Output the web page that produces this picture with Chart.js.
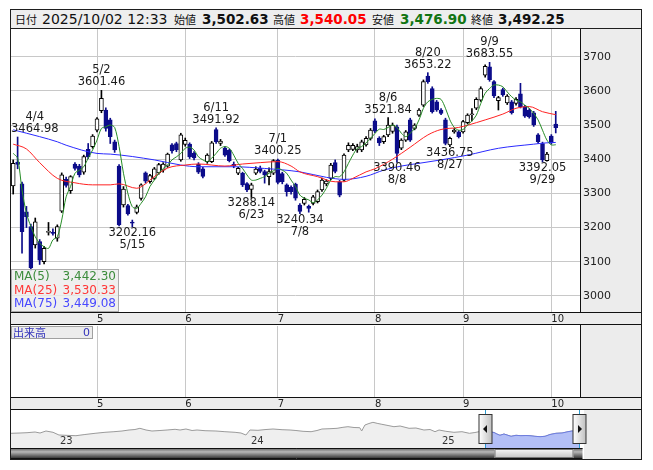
<!DOCTYPE html>
<html>
<head>
<meta charset="utf-8">
<title>daily chart</title>
<script src="https://cdn.jsdelivr.net/npm/chart.js@4.4.1/dist/chart.umd.min.js"></script>
<style>
  html, body { margin: 0; padding: 0; background: #fff; }
  body { width: 653px; height: 470px; position: relative; overflow: hidden; font-family: 'DejaVu Sans', sans-serif; }
  #frame { position: absolute; left: 10px; top: 9px; width: 632px; height: 451px; border: 1px solid #1e1e1e; box-sizing: border-box; }
  #head { position: absolute; left: 10px; top: 9px; width: 632px; height: 20px; border: 1px solid #1e1e1e; box-sizing: border-box; background: #eeeeee; z-index: 3; }
  #head span { position: absolute; top: 0; line-height: 18px; white-space: nowrap; color: #111; }
  #head .jp { font-family: 'Noto Sans CJK JP', sans-serif; font-size: 11px; }
  #head .dt { font-size: 14px; }
  #head .v { font-size: 13.5px; font-weight: bold; }
  canvas { position: absolute; }
  #maBox { position: absolute; left: 11px; top: 269px; width: 108px; height: 43px; box-sizing: border-box;
           border: 1px solid #ababab; background: rgba(236,236,236,0.82); font-size: 12px; z-index: 5; }
  #maBox .row { position: relative; height: 13.5px; line-height: 13.5px; }
  #maBox .row span { position: absolute; left: 2px; }
  #maBox .row b { position: absolute; right: 2px; font-weight: normal; }
  #volBox { position: absolute; left: 11px; top: 326px; width: 82px; height: 13px; box-sizing: border-box;
            border: 1px solid #a0a0a0; background: #ececec; color: #3333bb; font-size: 11px; line-height: 11px; z-index: 5; }
  #volBox span { position: absolute; left: 1px; font-family: 'Noto Sans CJK JP', sans-serif; }
  #volBox b { position: absolute; right: 2px; font-weight: normal; }
</style>
</head>
<body>
<div id="frame"></div>
<div id="head">
  <span class="jp" style="left:4px">日付</span>
  <span class="dt" style="left:31px" id="hDate"></span>
  <span class="jp" style="left:163px">始値</span>
  <span class="v" style="left:191px" id="hOpen"></span>
  <span class="jp" style="left:262px">高値</span>
  <span class="v" style="left:289px;color:#ff0000" id="hHigh"></span>
  <span class="jp" style="left:361px">安値</span>
  <span class="v" style="left:389px;color:#127512" id="hLow"></span>
  <span class="jp" style="left:460px">終値</span>
  <span class="v" style="left:487px" id="hClose"></span>
</div>
<canvas id="mainChart" width="630" height="296" style="left:11px;top:29px"></canvas>
<canvas id="volChart" width="630" height="85" style="left:11px;top:325px"></canvas>
<canvas id="navChart" width="630" height="49" style="left:11px;top:410px"></canvas>
<div id="maBox">
  <div class="row" style="color:#3c8c3c"><span>MA(5)</span><b id="lg5"></b></div>
  <div class="row" style="color:#ff3838"><span>MA(25)</span><b id="lg25"></b></div>
  <div class="row" style="color:#4848ff"><span>MA(75)</span><b id="lg75"></b></div>
</div>
<div id="volBox"><span>出来高</span><b>0</b></div>

<script>
// trading days shown (Apr 3 - Oct 2, 2025)
const dates = [
  '4/3','4/4','4/7','4/8','4/9','4/10','4/11','4/14','4/15','4/16','4/17','4/18','4/21','4/22','4/23','4/24','4/25','4/28','4/30',
  '5/1','5/2','5/7','5/8','5/9','5/12','5/13','5/14','5/15','5/16','5/19','5/20','5/21','5/22','5/23','5/26','5/27','5/28','5/29','5/30',
  '6/2','6/3','6/4','6/5','6/6','6/9','6/10','6/11','6/12','6/13','6/16','6/17','6/18','6/19','6/20','6/23','6/24','6/25','6/26','6/27','6/30',
  '7/1','7/2','7/3','7/4','7/7','7/8','7/9','7/10','7/11','7/14','7/15','7/16','7/17','7/18','7/22','7/23','7/24','7/25','7/28','7/29','7/30','7/31',
  '8/1','8/4','8/5','8/6','8/7','8/8','8/12','8/13','8/14','8/15','8/18','8/19','8/20','8/21','8/22','8/25','8/26','8/27','8/28','8/29',
  '9/1','9/2','9/3','9/4','9/5','9/8','9/9','9/10','9/11','9/12','9/16','9/17','9/18','9/19','9/22','9/24','9/25','9/26','9/29','9/30',
  '10/1','10/2'
];

const opens = [
  3322,3392,3328,3246,3203,3149,3159,3100,3186,3186,
  3169,3248,3341,3308,3386,3380,3362,3429,3437,3485,
  3542,3544,3515,3451,3380,3266,3264,3216,3244,3285,
  3360,3334,3344,3360,3368,3380,3442,3446,3398,3443,
  3444,3418,3386,3372,3393,3393,3487,3446,3432,3427,
  3385,3359,3359,3329,3312,3359,3373,3364,3349,3359,
  3397,3358,3325,3318,3327,3266,3271,3262,3271,3276,
  3310,3328,3344,3390,3334,3339,3427,3429,3427,3427,
  3442,3461,3512,3462,3451,3471,3481,3495,3432,3456,
  3515,3490,3529,3558,3643,3607,3568,3544,3515,3442,
  3480,3480,3480,3507,3530,3549,3573,3646,3670,3627,
  3571,3604,3565,3568,3563,3591,3554,3544,3536,3471,
  3446,3396,3468,3502.63
];
const highs = [
  3398,3464.98,3333,3262,3210,3228,3165,3145,3215,3196,
  3208,3360,3348,3352,3390,3385,3412,3446,3472,3522,
  3601.46,3550,3520,3456,3384,3320,3268,3222,3266,3328,
  3363,3356,3376,3388,3390,3418,3446,3450,3476,3462,
  3448,3422,3390,3376,3416,3452,3491.92,3458,3436,3430,
  3392,3376,3362,3332,3330,3378,3380,3368,3375,3399,
  3400.25,3362,3328,3322,3330,3270,3288,3266,3294,3310,
  3345,3340,3388,3398,3338,3416,3448,3446,3444,3456,
  3466,3490,3518,3466,3470,3521.84,3506,3500,3460,3484,
  3520,3504,3548,3632,3653.22,3612,3572,3548,3520,3465,
  3490,3484,3514,3533,3548,3580,3612,3676,3683.55,3630,
  3584,3608,3589,3572,3580,3622,3558,3548,3540,3475,
  3450,3420,3472,3540.05
];
const lows = [
  3298,3372,3125,3200,3075,3140,3092,3094,3178,3178,
  3160,3244,3318,3300,3368,3348,3356,3402,3432,3480,
  3536,3482,3446,3420,3205,3260,3236,3202.16,3240,3280,
  3330,3330,3340,3356,3362,3376,3418,3422,3394,3438,
  3402,3398,3358,3345,3388,3390,3446,3440,3408,3392,
  3375,3355,3320,3305,3288.14,3355,3360,3330,3325,3355,
  3328,3328,3292,3298,3280,3240.34,3266,3245,3266,3272,
  3306,3322,3340,3360,3290,3336,3422,3425,3420,3422,
  3438,3456,3478,3440,3446,3466,3476,3390.46,3428,3452,
  3452,3486,3525,3554,3622,3535,3540,3530,3442,3436.75,
  3476,3462,3476,3503,3512,3545,3569,3640,3628,3580,
  3544,3584,3560,3532,3558,3550,3522,3520,3496,3446,
  3392.05,3394,3444,3476.90
];
const closes = [
  3388,3385,3188,3232,3082,3217,3105,3139,3189,3183,
  3203,3354,3323,3349,3373,3354,3408,3407,3468,3518,
  3578,3490,3466,3427,3208,3313,3240,3213,3261,3325,
  3336,3352,3372,3384,3386,3415,3424,3428,3471,3455,
  3407,3404,3362,3350,3412,3448,3451,3453,3412,3396,
  3381,3373,3325,3310,3325,3371,3364,3354,3364,3396,
  3332,3334,3305,3305,3286,3247,3283,3256,3290,3305,
  3339,3336,3383,3364,3295,3412,3441,3441,3437,3451,
  3461,3485,3482,3448,3466,3500,3500,3417,3456,3480,
  3456,3500,3544,3627,3627,3539,3544,3534,3446,3461,
  3485,3466,3510,3529,3533,3575,3607,3672,3633,3585,
  3580,3588,3585,3536,3575,3554,3526,3524,3500,3451,
  3398,3415,3448,3492.25
];

// moving averages
const ma5 = [
  3417,3403,3310,3242,3203,3173,3154,3144,3139,3164,
  3173,3222,3290,3320,3359,3368,3378,3403,3427,3456,
  3490,3495,3500,3493,3437,3359,3300,3261,3256,3271,
  3290,3320,3339,3359,3373,3383,3398,3407,3417,3432,
  3435,3427,3407,3398,3393,3403,3417,3432,3437,3432,
  3412,3388,3373,3354,3339,3339,3344,3349,3359,3366,
  3373,3368,3359,3339,3320,3295,3286,3281,3273,3281,
  3295,3315,3339,3349,3349,3363,3388,3412,3432,3437,
  3448,3461,3475,3488,3487,3493,3500,3493,3476,3466,
  3476,3490,3515,3549,3568,3575,3578,3575,3549,3515,
  3493,3485,3487,3500,3512,3529,3563,3593,3607,3617,
  3617,3612,3597,3583,3573,3568,3558,3549,3534,3515,
  3485,3456,3442,3442.30
];
const ma25Pts = [[0,3444],[3,3430],[6,3390],[10,3344],[14,3331],[18,3325],[22,3325],[24,3328],[28,3315],
  [30,3328],[31,3339],[35,3374],[39,3383],[42,3386],[48,3380],[52,3386],[56,3390],[60,3393],[63,3380],
  [65,3363],[69,3349],[73,3334],[75,3334],[77,3344],[80,3363],[82,3372],[86,3400],[90,3435],[94,3471],
  [97,3487],[101,3493],[105,3507],[107,3515],[111,3532],[114,3549],[117,3554],[120,3539],[123,3530.33]];
const ma75Pts = [[0,3486],[6,3466],[10,3451],[12,3441],[19,3417],[22,3415],[32,3398],[38,3383],[42,3378],
  [50,3378],[57,3373],[65,3363],[71,3347],[75,3341],[80,3350],[84,3368],[88,3380],[92,3388],[97,3398],
  [103,3412],[110,3432],[118,3444],[121,3448],[123,3449.08]];

const yTicks = [3000, 3100, 3200, 3300, 3400, 3500, 3600, 3700];
const peakIdx = [1, 20, 46, 60, 85, 94, 108];
const troughIdx = [27, 54, 65, 87, 99, 120];
const emptySlots = 5;

// long-range navigator (decimal year, value)
const navHistory = [
  [2022.754,3456],[2022.801,3480],[2022.838,3504],[2022.880,3560],[2022.906,3480],[2022.937,3640],[2022.974,3536],
  [2023.005,3320],[2023.042,3296],[2023.094,3264],[2023.141,3360],[2023.194,3456],[2023.246,3536],[2023.293,3584],
  [2023.335,3640],[2023.372,3720],[2023.403,3760],[2023.429,3856],[2023.461,3720],[2023.492,3640],[2023.534,3680],
  [2023.571,3720],[2023.613,3776],[2023.639,3720],[2023.670,3800],[2023.702,3680],[2023.728,3720],[2023.770,3664],
  [2023.827,3640],[2023.874,3584],[2023.927,3536],[2023.958,3480],[2023.984,3320],[2024.005,3720],[2024.047,3696],
  [2024.089,3760],[2024.126,3800],[2024.173,3744],[2024.215,3720],[2024.246,3680],[2024.283,3616],[2024.325,3584],
  [2024.356,3680],[2024.382,3800],[2024.424,3824],[2024.461,3856],[2024.492,3936],[2024.518,3984],[2024.550,3920],
  [2024.580,3904],[2024.590,3640],[2024.607,4120],[2024.628,4240],[2024.649,4336],[2024.675,4240],[2024.696,4176],
  [2024.728,4080],[2024.759,3984],[2024.791,4040],[2024.838,3856],[2024.874,3880],[2024.916,3720],[2024.948,3760],
  [2024.974,3584],[2024.995,3720],[2025.031,3616],[2025.073,3536],[2025.115,3584],[2025.154,3456],[2025.183,3520],
  [2025.204,3584],[2025.235,3560],[2025.257,3584],[2025.283,3520],[2025.298,3400],[2025.314,3296],[2025.335,3400],
  [2025.356,3296],[2025.372,3216],[2025.398,3296],[2025.424,3264],[2025.450,3280],[2025.471,3264],[2025.497,3216],
  [2025.524,3184],[2025.550,3216],[2025.576,3360],[2025.607,3456],[2025.639,3480],[2025.670,3584],[2025.691,3640],
  [2025.712,3616],[2025.733,3600]
];
const navWindow = [2025.235, 2025.733];
const navYearTicks = [2023, 2024, 2025];

const NAVY = '#0c0c8a';
Chart.defaults.font.family = "'DejaVu Sans', sans-serif";
Chart.defaults.color = '#222';

const slots = dates.concat(Array(emptySlots).fill(''));
const isUp = opens.map((o, i) => closes[i] >= o);
function sparse(pts) {
  const arr = dates.map(() => null);
  pts.forEach(([i, v]) => { arr[i] = v; });
  return arr;
}
function monthStart(i) {
  if (i <= 0 || i >= dates.length) return false;
  return dates[i].split('/')[0] !== dates[i - 1].split('/')[0];
}
const fmt = v => v.toLocaleString('en-US', { minimumFractionDigits: 2, maximumFractionDigits: 2 });

// header + legend text
const last = dates.length - 1;
document.getElementById('hDate').textContent = '2025/10/02 12:33';
document.getElementById('hOpen').textContent = fmt(opens[last]);
document.getElementById('hHigh').textContent = fmt(highs[last]);
document.getElementById('hLow').textContent = fmt(lows[last]);
document.getElementById('hClose').textContent = fmt(closes[last]);
document.getElementById('lg5').textContent = fmt(ma5[last]);
document.getElementById('lg25').textContent = fmt(ma25Pts[ma25Pts.length - 1][1]);
document.getElementById('lg75').textContent = fmt(ma75Pts[ma75Pts.length - 1][1]);

// gray side panel + date band behind each price/volume pane
const panelBg = {
  id: 'panelBg',
  beforeDraw(chart) {
    const { ctx, chartArea: a, width: w, height: h } = chart;
    ctx.save();
    ctx.fillStyle = '#ececec';
    ctx.fillRect(a.right, 0, w - a.right, a.bottom);
    ctx.fillRect(0, a.bottom, w, h - a.bottom);
    ctx.restore();
  },
  afterDraw(chart) {
    const { ctx, chartArea: a, width: w, height: h } = chart;
    ctx.save();
    ctx.strokeStyle = '#111';
    ctx.lineWidth = 1;
    ctx.beginPath();
    ctx.moveTo(0, Math.round(a.bottom) + 0.5); ctx.lineTo(w, Math.round(a.bottom) + 0.5);
    ctx.moveTo(0, h - 0.5); ctx.lineTo(w, h - 0.5);
    ctx.moveTo(Math.round(a.right) + 0.5, 0); ctx.lineTo(Math.round(a.right) + 0.5, a.bottom);
    ctx.stroke();
    ctx.restore();
  }
};

// high / low call-outs
const extremeLabels = {
  id: 'extremeLabels',
  afterDatasetsDraw(chart) {
    const { ctx, chartArea: a, scales: { x, y } } = chart;
    ctx.save();
    ctx.font = '11.5px "DejaVu Sans"';
    ctx.fillStyle = '#1a1a1a';
    ctx.textAlign = 'center';
    ctx.textBaseline = 'middle';
    const put = (i, val, above) => {
      const t1 = above ? dates[i] : val.toFixed(2);
      const t2 = above ? val.toFixed(2) : dates[i];
      const half = Math.max(ctx.measureText(t1).width, ctx.measureText(t2).width) / 2;
      const cx = Math.min(Math.max(x.getPixelForValue(i), a.left + half), a.right - half);
      const py = y.getPixelForValue(val);
      if (above) {
        ctx.fillText(t1, cx, py - 20);
        ctx.fillText(t2, cx, py - 8);
      } else {
        ctx.fillText(t1, cx, py + 6);
        ctx.fillText(t2, cx, py + 18);
      }
    };
    peakIdx.forEach(i => put(i, highs[i], true));
    troughIdx.forEach(i => put(i, lows[i], false));
    ctx.restore();
  }
};

function monthAxis() {
  return {
    offset: true,
    grid: { offset: false, drawTicks: false, color: c => monthStart(c.index) ? '#c8c8c8' : 'rgba(0,0,0,0)' },
    border: { display: false },
    ticks: {
      autoSkip: false, maxRotation: 0, minRotation: 0, align: 'start', padding: 1,
      color: '#222', font: { size: 10 },
      callback: (v, i) => monthStart(i) ? dates[i].split('/')[0] : ''
    },
    afterFit: s => { s.height = 13; s.paddingLeft = 0; s.paddingRight = 0; }
  };
}

new Chart(document.getElementById('mainChart'), {
  type: 'bar',
  data: {
    labels: slots,
    datasets: [
      { type: 'line', label: 'MA(5)', data: ma5, borderColor: '#268c26', borderWidth: 1,
        pointRadius: 0, tension: 0.3, order: 0 },
      { type: 'line', label: 'MA(25)', data: sparse(ma25Pts), borderColor: '#ff2222', borderWidth: 1,
        pointRadius: 0, spanGaps: true, cubicInterpolationMode: 'monotone', order: 0 },
      { type: 'line', label: 'MA(75)', data: sparse(ma75Pts), borderColor: '#2a2aff', borderWidth: 1,
        pointRadius: 0, spanGaps: true, cubicInterpolationMode: 'monotone', order: 0 },
      { label: 'body', data: opens.map((o, i) => [o, closes[i]]),
        backgroundColor: isUp.map(u => u ? '#ffffff' : NAVY),
        borderColor: isUp.map(u => u ? '#000000' : NAVY),
        borderWidth: 1, borderSkipped: false, barThickness: 4, grouped: false, order: 1 },
      { label: 'wick', data: lows.map((l, i) => [l, highs[i]]),
        backgroundColor: isUp.map(u => u ? '#000000' : NAVY),
        barThickness: 1, grouped: false, order: 2 }
    ]
  },
  options: {
    responsive: false,
    animation: false,
    devicePixelRatio: 1,
    layout: { padding: 0 },
    plugins: { legend: { display: false }, tooltip: { enabled: false } },
    scales: {
      x: monthAxis(),
      y: {
        position: 'right',
        min: 2953, max: 3781,
        afterBuildTicks: s => { s.ticks = yTicks.map(v => ({ value: v })); },
        afterFit: s => { s.width = 61; s.paddingTop = 0; s.paddingBottom = 0; },
        grid: { color: '#c8c8c8', drawTicks: false },
        border: { display: false },
        ticks: { padding: 3, color: '#222', font: { size: 11 }, callback: v => String(v) }
      }
    }
  },
  plugins: [panelBg, extremeLabels]
});

new Chart(document.getElementById('volChart'), {
  type: 'bar',
  data: { labels: slots, datasets: [] },
  options: {
    responsive: false,
    animation: false,
    devicePixelRatio: 1,
    layout: { padding: { top: 1 } },
    plugins: { legend: { display: false }, tooltip: { enabled: false } },
    scales: {
      x: monthAxis(),
      y: {
        position: 'right', min: 0, max: 1,
        afterFit: s => { s.width = 61; s.paddingTop = 0; s.paddingBottom = 0; },
        grid: { display: false }, border: { display: false }, ticks: { display: false }
      }
    }
  },
  plugins: [panelBg]
});

// navigator with window handles and scrollbar
const navDecor = {
  id: 'navDecor',
  beforeDraw(chart) {
    const { ctx, chartArea: a, width: w, height: h } = chart;
    ctx.save();
    ctx.fillStyle = '#ececec';
    ctx.fillRect(a.right + 4, 0, w - a.right - 4, h);
    ctx.restore();
  },
  afterDraw(chart) {
    const { ctx, chartArea: a, scales: { x } } = chart;
    ctx.save();
    ctx.font = '10px "DejaVu Sans"';
    ctx.fillStyle = '#333';
    ctx.textBaseline = 'alphabetic';
    navYearTicks.forEach(yr => ctx.fillText(String(yr).slice(2), x.getPixelForValue(yr) + 2, 34));

    const x0 = Math.round(x.getPixelForValue(navWindow[0])) + 0.5;
    const x1 = Math.round(x.getPixelForValue(navWindow[1])) - 0.5;
    ctx.strokeStyle = '#2a9bd0';
    ctx.lineWidth = 1;
    ctx.beginPath();
    ctx.moveTo(x0, 0); ctx.lineTo(x0, a.bottom);
    ctx.moveTo(x1, 0); ctx.lineTo(x1, a.bottom);
    ctx.stroke();

    // scrollbar
    const sy = Math.round(a.bottom);
    const track = ctx.createLinearGradient(0, sy, 0, sy + 11);
    track.addColorStop(0, '#5a5a5a');
    track.addColorStop(0.35, '#b8b8b8');
    track.addColorStop(1, '#262626');
    ctx.fillStyle = track;
    ctx.fillRect(0, sy, x1 + 3, 10);
    const thumb = ctx.createLinearGradient(0, sy, 0, sy + 10);
    thumb.addColorStop(0, '#ffffff');
    thumb.addColorStop(1, '#c4c4c4');
    ctx.fillStyle = thumb;
    ctx.fillRect(x0 + 9, sy + 1, x1 - x0 - 15, 9);
    ctx.strokeStyle = '#777';
    ctx.strokeRect(x0 + 9.5, sy + 1.5, x1 - x0 - 16, 8);
    ctx.strokeStyle = '#111';
    ctx.beginPath();
    ctx.moveTo(0, sy + 0.5); ctx.lineTo(x1 + 3, sy + 0.5);
    ctx.moveTo(0, sy + 10.5); ctx.lineTo(x1 + 3, sy + 10.5);
    ctx.stroke();

    // handles
    [[x0, -1], [x1, 1]].forEach(([hx, dir]) => {
      const g = ctx.createLinearGradient(hx - 6, 0, hx + 7, 0);
      g.addColorStop(0, '#fdfdfd');
      g.addColorStop(1, '#bdbdbd');
      ctx.fillStyle = g;
      ctx.fillRect(hx - 6.5, 4.5, 13, 29);
      ctx.strokeStyle = '#333';
      ctx.strokeRect(hx - 6.5, 4.5, 13, 29);
      ctx.fillStyle = '#111';
      ctx.beginPath();
      ctx.moveTo(hx + dir * 2.5, 19);
      ctx.lineTo(hx - dir * 1.5, 15);
      ctx.lineTo(hx - dir * 1.5, 23);
      ctx.closePath();
      ctx.fill();
    });
    ctx.restore();
  }
};

const navPts = navHistory.map(([x, y]) => ({ x, y }));
new Chart(document.getElementById('navChart'), {
  type: 'line',
  data: {
    datasets: [
      { data: navPts.filter(p => p.x >= navWindow[0] && p.x <= navWindow[1]),
        borderColor: '#6b7be0', backgroundColor: '#b3bff6', borderWidth: 1,
        fill: 'start', pointRadius: 0, order: 0 },
      { data: navPts, borderColor: '#9a9a9a', backgroundColor: '#efefef', borderWidth: 1,
        fill: 'start', pointRadius: 0, order: 1 }
    ]
  },
  options: {
    responsive: false,
    animation: false,
    devicePixelRatio: 1,
    layout: { padding: 0 },
    plugins: { legend: { display: false }, tooltip: { enabled: false } },
    scales: {
      x: {
        type: 'linear', min: 2022.754, max: 2025.733,
        afterFit: s => { s.height = 11; s.paddingLeft = 0; s.paddingRight = 0; },
        grid: { display: false }, border: { display: false }, ticks: { display: false }
      },
      y: {
        position: 'right', min: 2280, max: 5320,
        afterFit: s => { s.width = 61; s.paddingTop = 0; s.paddingBottom = 0; },
        grid: { display: false }, border: { display: false }, ticks: { display: false }
      }
    }
  },
  plugins: [navDecor]
});
</script>
</body>
</html>
